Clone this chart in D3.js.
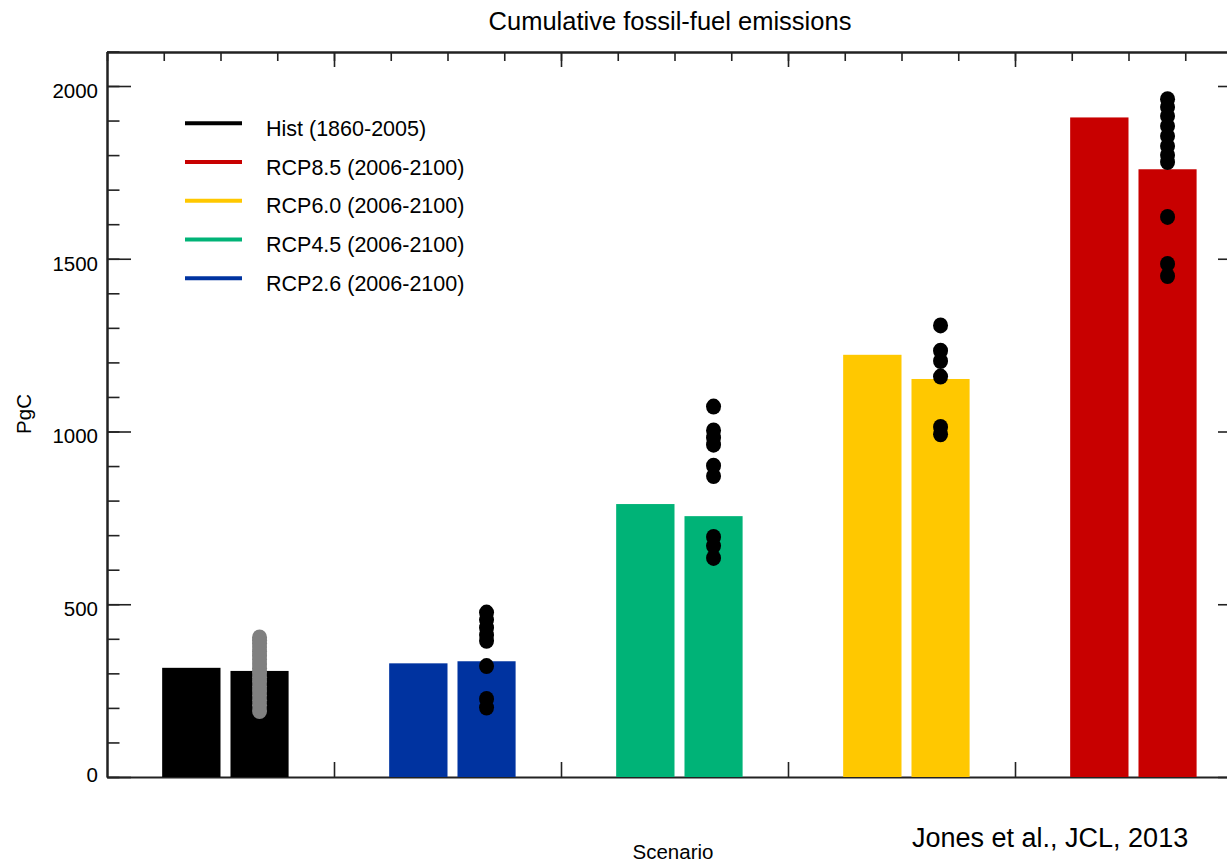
<!DOCTYPE html>
<html>
<head>
<meta charset="utf-8">
<script src="https://cdn.jsdelivr.net/npm/d3@7"></script>
<style>
  html, body { margin: 0; padding: 0; background: #fff; }
  svg { display: block; }
  text { font-family: "Liberation Sans", Arial, Helvetica, sans-serif; fill: #000; }
</style>
</head>
<body>
<svg id="chart" width="1227" height="862"></svg>
<script>
// Scenario order along the x axis
const scenarios = ["Hist", "RCP2.6", "RCP4.5", "RCP6.0", "RCP8.5"];
const scenarioColors = ["#000000", "#0033a0", "#00b377", "#ffc800", "#c80000"];

// Cumulative fossil-fuel emissions (PgC): prescribed and model-mean
const prescribed = [316, 329, 790, 1222, 1909];
const modelMean  = [307, 335, 755, 1152, 1759];

// Individual model estimates (PgC)
const histModels  = [404, 396, 387, 376, 363, 351, 340, 327, 315, 302, 289, 276, 262, 249, 236, 222, 208, 191];
const rcp26Models = [476, 455, 432, 411, 394, 321, 226, 201];
const rcp45Models = [1072, 1003, 982, 962, 901, 871, 695, 669, 634];
const rcp60Models = [1307, 1234, 1204, 1159, 1013, 992];
const rcp85Models = [1962, 1939, 1913, 1884, 1855, 1826, 1800, 1780, 1621, 1485, 1450];
const modelSets = [histModels, rcp26Models, rcp45Models, rcp60Models, rcp85Models];
const dotColors = ["#808080", "#000000", "#000000", "#000000", "#000000"];

// Legend
const legendLabels = ["Hist (1860-2005)", "RCP8.5 (2006-2100)", "RCP6.0 (2006-2100)", "RCP4.5 (2006-2100)", "RCP2.6 (2006-2100)"];
const legendColors = ["#000000", "#c80000", "#ffc800", "#00b377", "#0033a0"];

// Axis ticks
const yMajorTicks = [0, 500, 1000, 1500, 2000];
const yMinorTicks = d3.range(0, 2101, 100);
const xMajorTicks = [1, 2, 3, 4];
const xMinorTicks = d3.range(0, 5.001, 0.25);

const svg = d3.select("#chart");
const plotLeft = 107, plotRight = 1242, plotTop = 52, plotBottom = 777;

const x = d3.scaleLinear().domain([0, 5]).range([plotLeft, plotRight]);
const y = d3.scaleLinear().domain([0, 2100]).range([plotBottom, plotBottom - 2100 * 0.3455]);

const axisColor = "#222";

function styleAxis(g) {
  g.selectAll(".domain").attr("stroke", axisColor).attr("stroke-width", 2);
  g.selectAll(".tick line").attr("stroke", axisColor).attr("stroke-width", 1.6);
}

// Left axis: minor then major ticks pointing inward
svg.append("g").attr("transform", `translate(${plotLeft},0)`)
  .call(d3.axisLeft(y).tickValues(yMinorTicks).tickSize(-12.5).tickSizeOuter(0).tickFormat(""))
  .call(styleAxis);
svg.append("g").attr("transform", `translate(${plotLeft},0)`)
  .call(d3.axisLeft(y).tickValues(yMajorTicks).tickSize(-24).tickSizeOuter(0).tickPadding(9).tickFormat(d3.format("d")))
  .call(styleAxis)
  .call(g => g.selectAll(".tick text")
    .attr("font-size", 20.5)
    .attr("font-family", "'Liberation Sans', Arial, sans-serif")
    .attr("fill", "#000")
    .attr("y", d => d === 0 ? -7 : 0)
    .attr("dy", "0.55em"));

// Right axis
svg.append("g").attr("transform", `translate(${plotRight},0)`)
  .call(d3.axisRight(y).tickValues(yMinorTicks).tickSize(-12.5).tickSizeOuter(0).tickFormat(""))
  .call(styleAxis);
svg.append("g").attr("transform", `translate(${plotRight},0)`)
  .call(d3.axisRight(y).tickValues(yMajorTicks).tickSize(-24).tickSizeOuter(0).tickFormat(""))
  .call(styleAxis);

// Top axis
svg.append("g").attr("transform", `translate(0,${plotTop})`)
  .call(d3.axisTop(x).tickValues(xMinorTicks).tickSize(-9).tickSizeOuter(0).tickFormat(""))
  .call(styleAxis);
svg.append("g").attr("transform", `translate(0,${plotTop})`)
  .call(d3.axisTop(x).tickValues(xMajorTicks).tickSize(-15).tickSizeOuter(0).tickFormat(""))
  .call(styleAxis);

// Bottom axis
svg.append("g").attr("transform", `translate(0,${plotBottom})`)
  .call(d3.axisBottom(x).tickValues(xMajorTicks).tickSize(-15).tickSizeOuter(0).tickFormat(""))
  .call(styleAxis);

// Bars: prescribed (left) and model mean (right) within each scenario slot
const barA0 = 0.243, barA1 = 0.5, barB0 = 0.544, barB1 = 0.8;

svg.append("g").selectAll("rect.prescribed")
  .data(prescribed)
  .join("rect")
  .attr("class", "prescribed")
  .attr("x", (d, i) => x(i + barA0))
  .attr("width", (d, i) => x(i + barA1) - x(i + barA0))
  .attr("y", d => y(d))
  .attr("height", d => y(0) - y(d))
  .attr("fill", (d, i) => scenarioColors[i]);

svg.append("g").selectAll("rect.mean")
  .data(modelMean)
  .join("rect")
  .attr("class", "mean")
  .attr("x", (d, i) => x(i + barB0))
  .attr("width", (d, i) => x(i + barB1) - x(i + barB0))
  .attr("y", d => y(d))
  .attr("height", d => y(0) - y(d))
  .attr("fill", (d, i) => scenarioColors[i]);

// Individual model dots on the model-mean bar
const dotData = modelSets.flatMap((vals, i) => vals.map(v => ({ i, v })));
svg.append("g").selectAll("ellipse")
  .data(dotData)
  .join("ellipse")
  .attr("cx", d => x(d.i + (barB0 + barB1) / 2))
  .attr("cy", d => y(d.v))
  .attr("rx", 7.5)
  .attr("ry", 8)
  .attr("fill", d => dotColors[d.i]);

// Legend
const legend = svg.append("g");
const legY0 = 123.3, legStep = 38.75;
legendLabels.forEach((lab, k) => {
  const ly = legY0 + k * legStep;
  legend.append("line")
    .attr("x1", 185).attr("x2", 242)
    .attr("y1", ly).attr("y2", ly)
    .attr("stroke", legendColors[k]).attr("stroke-width", 4);
  legend.append("text")
    .attr("x", 266).attr("y", ly + 12.5)
    .attr("font-size", 21.5)
    .text(lab);
});

// Title and axis titles
svg.append("text")
  .attr("x", 670).attr("y", 30)
  .attr("text-anchor", "middle")
  .attr("font-size", 25.5)
  .text("Cumulative fossil-fuel emissions");

svg.append("text")
  .attr("transform", "translate(31,414) rotate(-90)")
  .attr("text-anchor", "middle")
  .attr("font-size", 20.5)
  .text("PgC");

svg.append("text")
  .attr("x", 673).attr("y", 859)
  .attr("text-anchor", "middle")
  .attr("font-size", 20.5)
  .text("Scenario");

svg.append("text")
  .attr("x", 912).attr("y", 847)
  .attr("font-size", 27)
  .text("Jones et al., JCL, 2013");
</script>
</body>
</html>
